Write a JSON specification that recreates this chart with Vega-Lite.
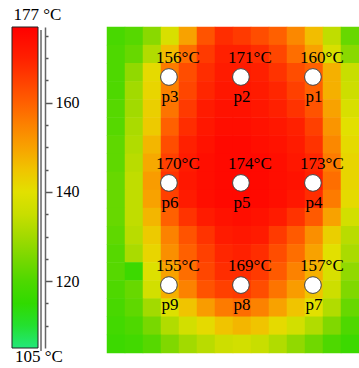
{
"$schema": "https://vega.github.io/schema/vega-lite/v6.json",
"background": "white",
"padding": {"left": 11, "top": 5, "right": 0, "bottom": 0},
"config": {"view": {"stroke": null}},
"spacing": 27,
"datasets": {
"cells": [
{"r":0,"c":0,"t":119},{"r":0,"c":1,"t":121},{"r":0,"c":2,"t":127},{"r":0,"c":3,"t":138},{"r":0,"c":4,"t":150},{"r":0,"c":5,"t":162},{"r":0,"c":6,"t":168},{"r":0,"c":7,"t":166},{"r":0,"c":8,"t":163},{"r":0,"c":9,"t":160},{"r":0,"c":10,"t":154},{"r":0,"c":11,"t":146},{"r":0,"c":12,"t":134},{"r":0,"c":13,"t":123},
{"r":1,"c":0,"t":120},{"r":1,"c":1,"t":123},{"r":1,"c":2,"t":132},{"r":1,"c":3,"t":146},{"r":1,"c":4,"t":158},{"r":1,"c":5,"t":166},{"r":1,"c":6,"t":170},{"r":1,"c":7,"t":170},{"r":1,"c":8,"t":168},{"r":1,"c":9,"t":164},{"r":1,"c":10,"t":158},{"r":1,"c":11,"t":150},{"r":1,"c":12,"t":138},{"r":1,"c":13,"t":127},
{"r":2,"c":0,"t":120},{"r":2,"c":1,"t":128},{"r":2,"c":2,"t":141},{"r":2,"c":3,"t":156},{"r":2,"c":4,"t":163},{"r":2,"c":5,"t":168},{"r":2,"c":6,"t":171},{"r":2,"c":7,"t":171},{"r":2,"c":8,"t":170},{"r":2,"c":9,"t":167},{"r":2,"c":10,"t":163},{"r":2,"c":11,"t":160},{"r":2,"c":12,"t":148},{"r":2,"c":13,"t":135},
{"r":3,"c":0,"t":120},{"r":3,"c":1,"t":130},{"r":3,"c":2,"t":142},{"r":3,"c":3,"t":155},{"r":3,"c":4,"t":164},{"r":3,"c":5,"t":169},{"r":3,"c":6,"t":172},{"r":3,"c":7,"t":172},{"r":3,"c":8,"t":171},{"r":3,"c":9,"t":169},{"r":3,"c":10,"t":165},{"r":3,"c":11,"t":160},{"r":3,"c":12,"t":148},{"r":3,"c":13,"t":136},
{"r":4,"c":0,"t":121},{"r":4,"c":1,"t":130},{"r":4,"c":2,"t":143},{"r":4,"c":3,"t":157},{"r":4,"c":4,"t":166},{"r":4,"c":5,"t":171},{"r":4,"c":6,"t":173},{"r":4,"c":7,"t":173},{"r":4,"c":8,"t":172},{"r":4,"c":9,"t":170},{"r":4,"c":10,"t":167},{"r":4,"c":11,"t":162},{"r":4,"c":12,"t":150},{"r":4,"c":13,"t":138},
{"r":5,"c":0,"t":121},{"r":5,"c":1,"t":131},{"r":5,"c":2,"t":144},{"r":5,"c":3,"t":160},{"r":5,"c":4,"t":168},{"r":5,"c":5,"t":172},{"r":5,"c":6,"t":174},{"r":5,"c":7,"t":174},{"r":5,"c":8,"t":173},{"r":5,"c":9,"t":172},{"r":5,"c":10,"t":170},{"r":5,"c":11,"t":165},{"r":5,"c":12,"t":152},{"r":5,"c":13,"t":140},
{"r":6,"c":0,"t":122},{"r":6,"c":1,"t":132},{"r":6,"c":2,"t":147},{"r":6,"c":3,"t":163},{"r":6,"c":4,"t":170},{"r":6,"c":5,"t":173},{"r":6,"c":6,"t":175},{"r":6,"c":7,"t":175},{"r":6,"c":8,"t":174},{"r":6,"c":9,"t":173},{"r":6,"c":10,"t":171},{"r":6,"c":11,"t":167},{"r":6,"c":12,"t":154},{"r":6,"c":13,"t":141},
{"r":7,"c":0,"t":122},{"r":7,"c":1,"t":133},{"r":7,"c":2,"t":149},{"r":7,"c":3,"t":165},{"r":7,"c":4,"t":171},{"r":7,"c":5,"t":174},{"r":7,"c":6,"t":175},{"r":7,"c":7,"t":175},{"r":7,"c":8,"t":175},{"r":7,"c":9,"t":174},{"r":7,"c":10,"t":172},{"r":7,"c":11,"t":169},{"r":7,"c":12,"t":156},{"r":7,"c":13,"t":142},
{"r":8,"c":0,"t":123},{"r":8,"c":1,"t":134},{"r":8,"c":2,"t":151},{"r":8,"c":3,"t":167},{"r":8,"c":4,"t":172},{"r":8,"c":5,"t":174},{"r":8,"c":6,"t":175},{"r":8,"c":7,"t":175},{"r":8,"c":8,"t":175},{"r":8,"c":9,"t":174},{"r":8,"c":10,"t":173},{"r":8,"c":11,"t":170},{"r":8,"c":12,"t":158},{"r":8,"c":13,"t":142},
{"r":9,"c":0,"t":123},{"r":9,"c":1,"t":134},{"r":9,"c":2,"t":150},{"r":9,"c":3,"t":165},{"r":9,"c":4,"t":171},{"r":9,"c":5,"t":174},{"r":9,"c":6,"t":175},{"r":9,"c":7,"t":175},{"r":9,"c":8,"t":175},{"r":9,"c":9,"t":174},{"r":9,"c":10,"t":172},{"r":9,"c":11,"t":168},{"r":9,"c":12,"t":156},{"r":9,"c":13,"t":141},
{"r":10,"c":0,"t":123},{"r":10,"c":1,"t":134},{"r":10,"c":2,"t":147},{"r":10,"c":3,"t":160},{"r":10,"c":4,"t":167},{"r":10,"c":5,"t":171},{"r":10,"c":6,"t":173},{"r":10,"c":7,"t":174},{"r":10,"c":8,"t":173},{"r":10,"c":9,"t":171},{"r":10,"c":10,"t":167},{"r":10,"c":11,"t":161},{"r":10,"c":12,"t":150},{"r":10,"c":13,"t":137},
{"r":11,"c":0,"t":122},{"r":11,"c":1,"t":133},{"r":11,"c":2,"t":144},{"r":11,"c":3,"t":155},{"r":11,"c":4,"t":162},{"r":11,"c":5,"t":167},{"r":11,"c":6,"t":171},{"r":11,"c":7,"t":172},{"r":11,"c":8,"t":171},{"r":11,"c":9,"t":166},{"r":11,"c":10,"t":161},{"r":11,"c":11,"t":153},{"r":11,"c":12,"t":143},{"r":11,"c":13,"t":133},
{"r":12,"c":0,"t":121},{"r":12,"c":1,"t":131},{"r":12,"c":2,"t":142},{"r":12,"c":3,"t":153},{"r":12,"c":4,"t":160},{"r":12,"c":5,"t":165},{"r":12,"c":6,"t":169},{"r":12,"c":7,"t":170},{"r":12,"c":8,"t":168},{"r":12,"c":9,"t":163},{"r":12,"c":10,"t":158},{"r":12,"c":11,"t":150},{"r":12,"c":12,"t":140},{"r":12,"c":13,"t":131},
{"r":13,"c":0,"t":121},{"r":13,"c":1,"t":117},{"r":13,"c":2,"t":139},{"r":13,"c":3,"t":150},{"r":13,"c":4,"t":158},{"r":13,"c":5,"t":164},{"r":13,"c":6,"t":168},{"r":13,"c":7,"t":168},{"r":13,"c":8,"t":166},{"r":13,"c":9,"t":161},{"r":13,"c":10,"t":155},{"r":13,"c":11,"t":148},{"r":13,"c":12,"t":138},{"r":13,"c":13,"t":128},
{"r":14,"c":0,"t":120},{"r":14,"c":1,"t":123},{"r":14,"c":2,"t":137},{"r":14,"c":3,"t":148},{"r":14,"c":4,"t":155},{"r":14,"c":5,"t":162},{"r":14,"c":6,"t":165},{"r":14,"c":7,"t":166},{"r":14,"c":8,"t":163},{"r":14,"c":9,"t":157},{"r":14,"c":10,"t":151},{"r":14,"c":11,"t":145},{"r":14,"c":12,"t":136},{"r":14,"c":13,"t":126},
{"r":15,"c":0,"t":119},{"r":15,"c":1,"t":122},{"r":15,"c":2,"t":130},{"r":15,"c":3,"t":139},{"r":15,"c":4,"t":145},{"r":15,"c":5,"t":151},{"r":15,"c":6,"t":156},{"r":15,"c":7,"t":158},{"r":15,"c":8,"t":155},{"r":15,"c":9,"t":150},{"r":15,"c":10,"t":145},{"r":15,"c":11,"t":140},{"r":15,"c":12,"t":132},{"r":15,"c":13,"t":123},
{"r":16,"c":0,"t":118},{"r":16,"c":1,"t":120},{"r":16,"c":2,"t":125},{"r":16,"c":3,"t":132},{"r":16,"c":4,"t":137},{"r":16,"c":5,"t":141},{"r":16,"c":6,"t":145},{"r":16,"c":7,"t":147},{"r":16,"c":8,"t":145},{"r":16,"c":9,"t":141},{"r":16,"c":10,"t":137},{"r":16,"c":11,"t":132},{"r":16,"c":12,"t":126},{"r":16,"c":13,"t":120},
{"r":17,"c":0,"t":117},{"r":17,"c":1,"t":118},{"r":17,"c":2,"t":121},{"r":17,"c":3,"t":126},{"r":17,"c":4,"t":130},{"r":17,"c":5,"t":133},{"r":17,"c":6,"t":136},{"r":17,"c":7,"t":137},{"r":17,"c":8,"t":135},{"r":17,"c":9,"t":132},{"r":17,"c":10,"t":128},{"r":17,"c":11,"t":124},{"r":17,"c":12,"t":120},{"r":17,"c":13,"t":117}
],
"probes": [
{"id":"p1","temp":"160°C","c":10.94,"r":2.26},
{"id":"p2","temp":"171°C","c":6.94,"r":2.26},
{"id":"p3","temp":"156°C","c":2.94,"r":2.26},
{"id":"p4","temp":"173°C","c":10.94,"r":8.11},
{"id":"p5","temp":"174°C","c":6.94,"r":8.11},
{"id":"p6","temp":"170°C","c":2.94,"r":8.11},
{"id":"p7","temp":"157°C","c":10.94,"r":13.75},
{"id":"p8","temp":"169°C","c":6.94,"r":13.75},
{"id":"p9","temp":"155°C","c":2.94,"r":13.75}
],
"bar": [{"k": "scale", "lo": 105, "hi": 177}]
},
"hconcat": [
{
"width": 26,
"height": 321,
"title": {"text": "177 °C", "anchor": "start", "font": "Liberation Serif", "fontSize": 17, "fontWeight": "normal", "color": "#000", "offset": 3, "dx": 2},
"data": {"name": "bar"},
"mark": {"type": "rect", "stroke": "#222", "strokeWidth": 1,
"color": {"gradient": "linear", "x1": 0, "y1": 1, "x2": 0, "y2": 0, "stops": [
{"offset": 0, "color": "#22e87a"},
{"offset": 0.0694, "color": "#24e030"},
{"offset": 0.1389, "color": "#30da00"},
{"offset": 0.2083, "color": "#4ed800"},
{"offset": 0.2778, "color": "#78d800"},
{"offset": 0.3472, "color": "#a2da00"},
{"offset": 0.4167, "color": "#c8de00"},
{"offset": 0.4861, "color": "#e2e000"},
{"offset": 0.5556, "color": "#f0c400"},
{"offset": 0.625, "color": "#f8a200"},
{"offset": 0.6944, "color": "#fc8200"},
{"offset": 0.7639, "color": "#ff6000"},
{"offset": 0.8333, "color": "#ff4000"},
{"offset": 0.9028, "color": "#ff2000"},
{"offset": 1, "color": "#ff0000"}
]}},
"encoding": {
"x": {"field": "k", "type": "nominal", "scale": {"paddingInner": 0, "paddingOuter": 0},
"axis": {"orient": "bottom", "domain": false, "ticks": false, "labels": false, "grid": true, "bandPosition": 1, "translate": 3,
"gridColor": "#666", "gridWidth": 1.5, "gridOpacity": 1,
"title": "105 °C", "titleAnchor": "start", "titleAlign": "left", "titleFont": "Liberation Serif", "titleFontSize": 17, "titleFontWeight": "normal", "titleColor": "#000", "titlePadding": -2}},
"y": {"field": "lo", "type": "quantitative", "scale": {"domain": [105, 177], "nice": false, "zero": false},
"axis": {"orient": "right", "offset": 7, "values": [110,115,120,125,130,135,140,145,150,155,160,165,170,175],
"tickSize": {"condition": {"test": "datum.value % 20 === 0", "value": 7}, "value": 3},
"tickColor": "#555", "tickWidth": 1.5, "domainColor": "#666", "domainWidth": 1.5,
"labelExpr": "datum.value % 20 === 0 ? datum.label : ''", "labelFont": "Liberation Serif", "labelFontSize": 16, "labelColor": "#000",
"labelPadding": 3, "labelOverlap": false, "labelFlush": false, "grid": false, "title": null}},
"y2": {"field": "hi"}
}
},
{
"width": 252,
"height": 326,
"encoding": {
"x": {"field": "c", "type": "quantitative", "axis": null, "scale": {"domain": [-0.5, 13.5], "nice": false, "zero": false}},
"y": {"field": "r", "type": "quantitative", "axis": null, "scale": {"domain": [-0.5, 17.5], "nice": false, "zero": false, "reverse": true}}
},
"layer": [
{
"data": {"name": "cells"},
"mark": {"type": "rect", "width": 18.5, "height": 18.6},
"encoding": {
"color": {"field": "t", "type": "quantitative", "legend": null,
"scale": {"domain": [105,110,115,120,125,130,135,140,145,150,155,160,165,170,177],
"range": ["#22e87a","#24e030","#30da00","#4ed800","#78d800","#a2da00","#c8de00","#e2e000","#f0c400","#f8a200","#fc8200","#ff6000","#ff4000","#ff2000","#ff0000"], "interpolate": "rgb"}}
}
},
{
"data": {"name": "probes"},
"mark": {"type": "circle", "size": 280, "fill": "white", "stroke": "#444", "strokeWidth": 1, "opacity": 1}
},
{
"data": {"name": "probes"},
"mark": {"type": "text", "align": "center", "baseline": "alphabetic", "dx": 9, "dy": -14, "font": "Liberation Serif", "fontSize": 17, "color": "#000"},
"encoding": {"text": {"field": "temp"}}
},
{
"data": {"name": "probes"},
"mark": {"type": "text", "align": "center", "baseline": "alphabetic", "dx": 1, "dy": 25, "font": "Liberation Serif", "fontSize": 17, "color": "#000"},
"encoding": {"text": {"field": "id"}}
}
]
}
]
}
